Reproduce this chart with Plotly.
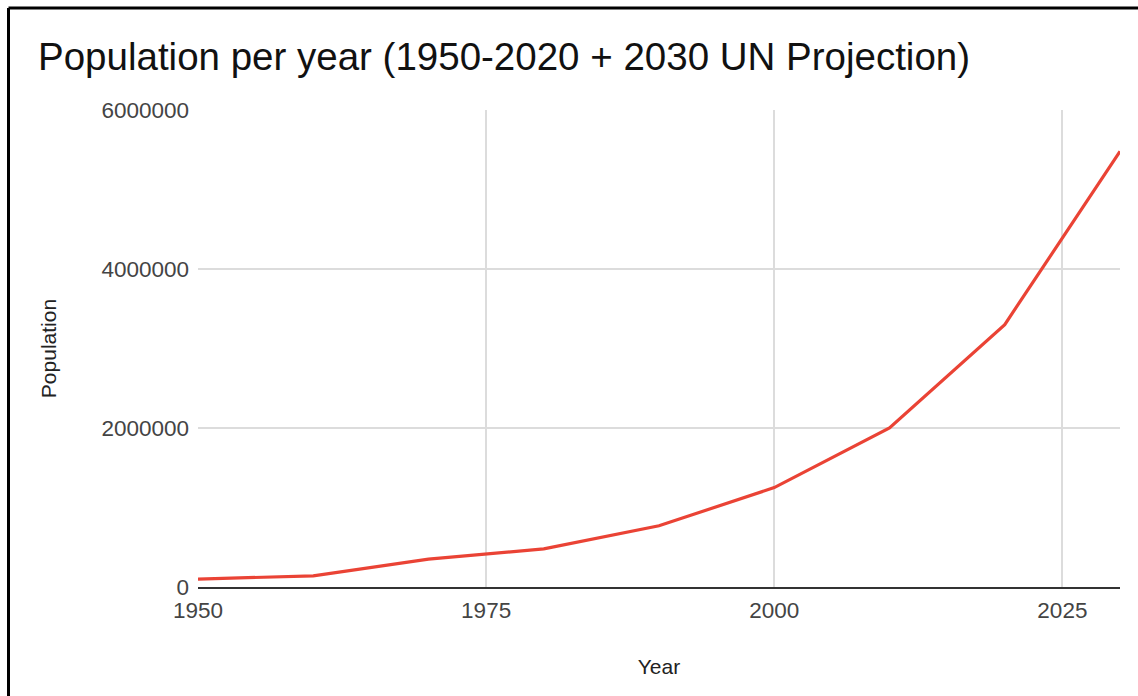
import plotly.graph_objects as go

# Population per decade, 1950-2020, plus the 2030 UN projection
years = [1950, 1960, 1970, 1980, 1990, 2000, 2010, 2020, 2030]
population = [100000, 140000, 350000, 480000, 770000, 1250000, 2000000, 3300000, 5480000]

x_ticks = [1950, 1975, 2000, 2025]
y_ticks = [0, 2000000, 4000000, 6000000]

FONT = "Liberation Sans, Arial, sans-serif"

fig = go.Figure()
fig.add_trace(go.Scatter(
    x=years,
    y=population,
    mode="lines",
    line=dict(color="#ea4335", width=3.2),
    showlegend=False,
))

fig.update_layout(
    width=1138,
    height=696,
    paper_bgcolor="white",
    plot_bgcolor="white",
    margin=dict(l=198, r=18, t=110, b=109),
    font=dict(family=FONT, color="#444444"),
    title=dict(
        text="Population per year (1950-2020 + 2030 UN Projection)",
        font=dict(family=FONT, size=38.5, color="#111111"),
        x=38 / 1138,
        xanchor="left",
        xref="container",
        y=1 - 57 / 696,
        yanchor="middle",
        yref="container",
    ),
    xaxis=dict(
        range=[1950, 2030],
        tickvals=x_ticks,
        tickformat="d",
        tickfont=dict(size=22.5, color="#444444"),
        ticklabelstandoff=2,
        showgrid=True,
        gridcolor="#dcdcdc",
        gridwidth=2,
        zeroline=False,
        showline=True,
        linecolor="#333333",
        linewidth=2,
        ticks="",
        title=dict(text="Year", font=dict(size=21, color="#222222"), standoff=37),
    ),
    yaxis=dict(
        range=[0, 6000000],
        tickvals=y_ticks,
        tickformat="d",
        tickfont=dict(size=22.5, color="#444444"),
        showgrid=True,
        gridcolor="#dcdcdc",
        gridwidth=2,
        zeroline=False,
        ticks="",
        ticklabelstandoff=8,
        title=dict(text="Population", font=dict(size=21, color="#222222"), standoff=39),
    ),
    shapes=[
        # frame lines along the top and left edge of the page
        dict(type="line", xref="paper", yref="paper",
             x0=(8.5 - 198) / 922, x1=(1140 - 198) / 922,
             y0=(587 - 8) / 477, y1=(587 - 8) / 477,
             line=dict(color="black", width=3)),
        dict(type="line", xref="paper", yref="paper",
             x0=(8.5 - 198) / 922, x1=(8.5 - 198) / 922,
             y0=(587 - 8) / 477, y1=(587 - 700) / 477,
             line=dict(color="black", width=3)),
    ],
)

fig.write_html("out.html")
